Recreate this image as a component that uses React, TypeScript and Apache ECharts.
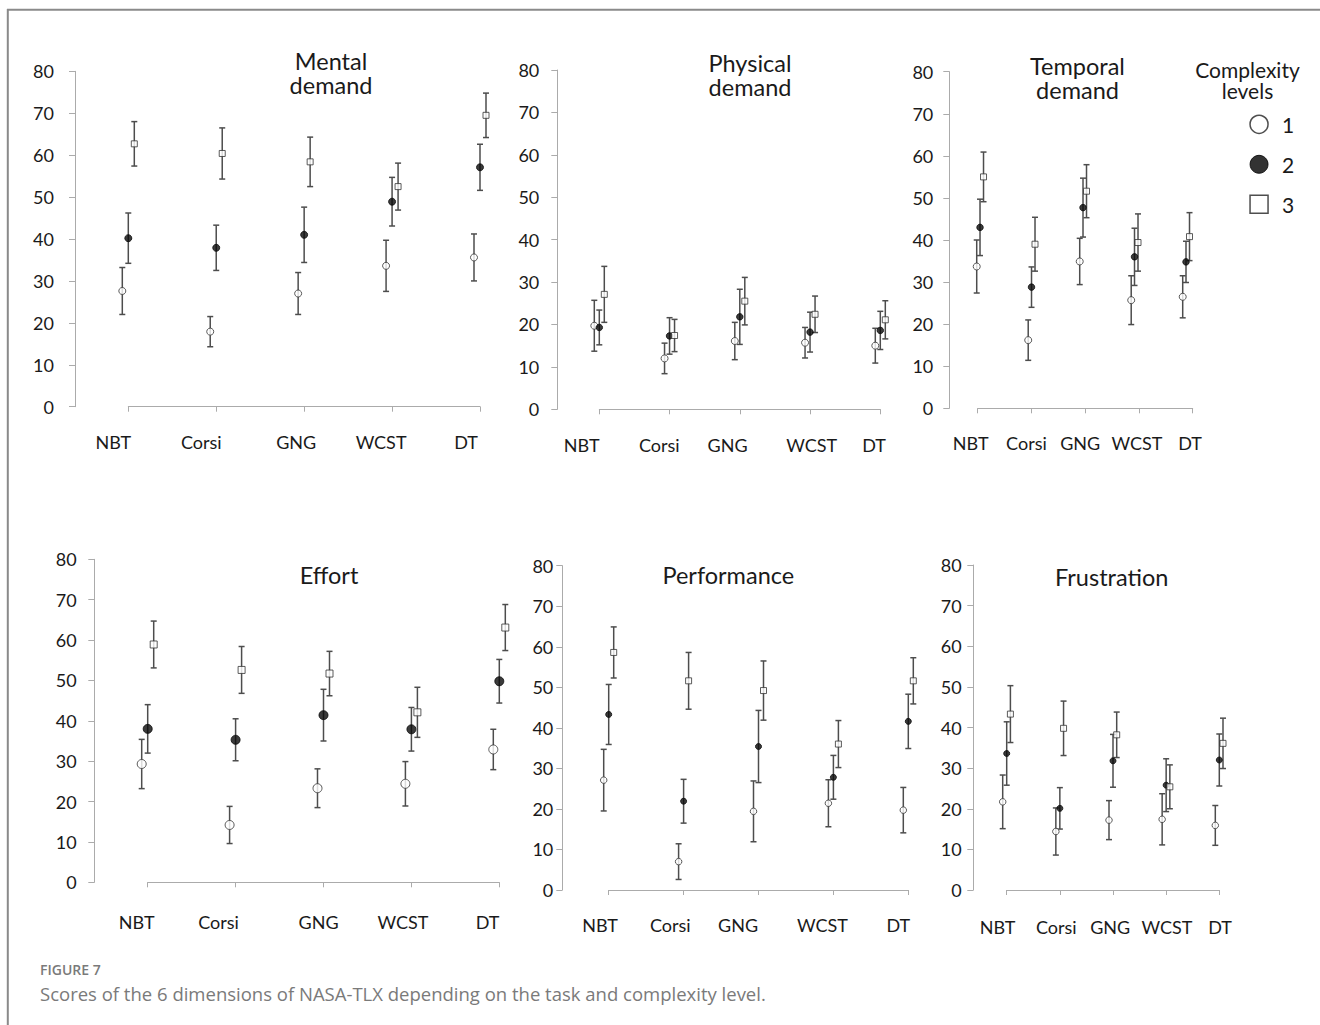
import React, { useEffect, useRef } from "react";
import * as echarts from "echarts";

// ---------- data ----------
const tasks = ["NBT", "Corsi", "GNG", "WCST", "DT"];
const levelNames = ["1", "2", "3"];
const yMin = 0;
const yMax = 80;
const yStep = 10;

const mentalL1 = [27.6, 17.9, 27.0, 33.6, 35.6];
const mentalL1Err = [5.6, 3.6, 5.0, 6.1, 5.6];
const mentalL2 = [40.2, 37.9, 41.0, 48.9, 57.1];
const mentalL2Err = [6.0, 5.4, 6.6, 5.8, 5.5];
const mentalL3 = [62.7, 60.4, 58.4, 52.5, 69.5];
const mentalL3Err = [5.3, 6.1, 5.9, 5.6, 5.3];

const physicalL1 = [19.7, 12.0, 16.1, 15.7, 15.0];
const physicalL1Err = [6.0, 3.6, 4.4, 3.6, 4.1];
const physicalL2 = [19.3, 17.3, 21.8, 18.2, 18.6];
const physicalL2Err = [4.1, 4.3, 6.5, 4.7, 4.5];
const physicalL3 = [27.1, 17.4, 25.5, 22.4, 21.1];
const physicalL3Err = [6.6, 3.8, 5.6, 4.3, 4.5];

const temporalL1 = [33.7, 16.2, 34.9, 25.7, 26.5];
const temporalL1Err = [6.3, 4.8, 5.5, 5.8, 5.0];
const temporalL2 = [43.0, 28.8, 47.7, 36.0, 34.8];
const temporalL2Err = [6.7, 4.8, 7.0, 6.8, 4.9];
const temporalL3 = [55.0, 39.0, 51.6, 39.4, 40.8];
const temporalL3Err = [5.9, 6.4, 6.3, 6.8, 5.7];

const effortL1 = [29.3, 14.2, 23.3, 24.4, 32.9];
const effortL1Err = [6.1, 4.6, 4.8, 5.5, 5.0];
const effortL2 = [38.0, 35.3, 41.4, 37.9, 49.8];
const effortL2Err = [6.0, 5.2, 6.4, 5.4, 5.4];
const effortL3 = [58.9, 52.6, 51.7, 42.1, 63.1];
const effortL3Err = [5.8, 5.8, 5.5, 6.2, 5.7];

const performanceL1 = [27.1, 7.0, 19.4, 21.4, 19.7];
const performanceL1Err = [7.6, 4.4, 7.5, 5.8, 5.6];
const performanceL2 = [43.3, 21.9, 35.4, 27.8, 41.6];
const performanceL2Err = [7.4, 5.4, 8.9, 5.4, 6.7];
const performanceL3 = [58.6, 51.6, 49.2, 36.0, 51.6];
const performanceL3Err = [6.3, 7.0, 7.3, 5.8, 5.7];

const frustrationL1 = [21.7, 14.4, 17.2, 17.4, 15.9];
const frustrationL1Err = [6.6, 5.8, 4.8, 6.3, 4.9];
const frustrationL2 = [33.6, 20.1, 31.8, 25.8, 32.0];
const frustrationL2Err = [7.8, 5.1, 6.5, 6.5, 6.4];
const frustrationL3 = [43.3, 39.8, 38.2, 25.4, 36.1];
const frustrationL3Err = [7.0, 6.7, 5.6, 5.4, 6.2];

const panelTitles = [
  "Mental\ndemand",
  "Physical\ndemand",
  "Temporal\ndemand",
  "Effort",
  "Performance",
  "Frustration",
];
const legendTitle = "Complexity\nlevels";
const figureLabel = "FIGURE 7";
const captionText =
  "Scores of the 6 dimensions of NASA-TLX depending on the task and complexity level.";

// ---------- layout / style ----------
const FONT = "Lato, 'Noto Sans', sans-serif";
const CAPTION_FONT = "'Open Sans', 'Noto Sans', sans-serif";
const TEXT = "#1a1a1a";
const AXIS = "#ababab";
const BAR = "#4d4d4d";

type Layout = {
  x0: number; x1: number; yTop: number; yBottom: number;
  yAxisX: number; xAxisY: number; yLabelMargin: number; xLabelMargin: number;
  labelShift: number[]; dx: number[]; sizes: number[]; pointRange: number[];
  titleX: number; titleY: number;
};

const layouts: Layout[] = [
  { x0: 128.3, x1: 480, yTop: 71.3, yBottom: 406.7, yAxisX: 75, xAxisY: 424.3,
    yLabelMargin: 21, xLabelMargin: 8.5, labelShift: [-15, -15, -8, -11, -14],
    dx: [-6, 0, 6], sizes: [7, 7, 6], pointRange: [1, 5], titleX: 331, titleY: 72.5 },
  { x0: 599.3, x1: 880.3, yTop: 70, yBottom: 409.3, yAxisX: 557.3, xAxisY: 426.7,
    yLabelMargin: 18, xLabelMargin: 9.3, labelShift: [-17.6, -10.3, -12.2, 1.7, -6.3],
    dx: [-5, 0, 5], sizes: [7, 6.5, 6], pointRange: [1, 5], titleX: 750, titleY: 75 },
  { x0: 977.7, x1: 1192.7, yTop: 71.7, yBottom: 408.3, yAxisX: 949.3, xAxisY: 422.7,
    yLabelMargin: 16, xLabelMargin: 11.6, labelShift: [-7, -5, -5, -2, -2.7],
    dx: [-3.3, 0, 3.5], sizes: [7, 6.5, 6], pointRange: [0.955, 5.13], titleX: 1077.5, titleY: 78.3 },
  { x0: 147.7, x1: 499.3, yTop: 559.3, yBottom: 882.3, yAxisX: 94.3, xAxisY: 899,
    yLabelMargin: 17.7, xLabelMargin: 13.7, labelShift: [-11, -17, -5, -8.4, -11.8],
    dx: [-6, 0, 6], sizes: [9, 9, 7], pointRange: [1, 5], titleX: 329, titleY: 575 },
  { x0: 608.7, x1: 908.3, yTop: 565.7, yBottom: 890, yAxisX: 562.3, xAxisY: 906,
    yLabelMargin: 9, xLabelMargin: 10, labelShift: [-8.7, -13.3, -20.5, -11, -10],
    dx: [-5, 0, 5], sizes: [6.5, 6, 6], pointRange: [1, 5], titleX: 728.3, titleY: 575 },
  { x0: 1006.7, x1: 1219.3, yTop: 565, yBottom: 890, yAxisX: 973.3, xAxisY: 906.7,
    yLabelMargin: 11.7, xLabelMargin: 11, labelShift: [-9.2, -3.5, -2.8, 0.8, 0.7],
    dx: [-4, 0, 3.7], sizes: [6.5, 6, 6], pointRange: [1, 5], titleX: 1111.7, titleY: 576.7 },
];

const panelMeans = [
  [mentalL1, mentalL2, mentalL3],
  [physicalL1, physicalL2, physicalL3],
  [temporalL1, temporalL2, temporalL3],
  [effortL1, effortL2, effortL3],
  [performanceL1, performanceL2, performanceL3],
  [frustrationL1, frustrationL2, frustrationL3],
];
const panelErrs = [
  [mentalL1Err, mentalL2Err, mentalL3Err],
  [physicalL1Err, physicalL2Err, physicalL3Err],
  [temporalL1Err, temporalL2Err, temporalL3Err],
  [effortL1Err, effortL2Err, effortL3Err],
  [performanceL1Err, performanceL2Err, performanceL3Err],
  [frustrationL1Err, frustrationL2Err, frustrationL3Err],
];

const levelStyles = [
  { symbol: "circle", itemStyle: { color: "#ffffff", borderColor: "#333333", borderWidth: 1 } },
  { symbol: "circle", itemStyle: { color: "#0a0a0a", borderColor: "#0a0a0a", borderWidth: 1 } },
  { symbol: "rect", itemStyle: { color: "#ffffff", borderColor: "#333333", borderWidth: 1 } },
];

function buildOption() {
  const grid: any[] = [];
  const xAxis: any[] = [];
  const yAxis: any[] = [];
  const series: any[] = [];
  const graphic: any[] = [];

  layouts.forEach((p, pi) => {
    grid.push({
      left: p.x0,
      top: p.yTop,
      width: p.x1 - p.x0,
      height: p.yBottom - p.yTop,
      containLabel: false,
      outerBoundsMode: "none",
    });

    const rich: any = {};
    p.labelShift.forEach((s, i) => {
      rich["s" + i] = {
        fontSize: 18,
        fontFamily: FONT,
        color: TEXT,
        lineHeight: 18,
        padding: s < 0 ? [0, -2 * s, 0, 0] : [0, 0, 0, 2 * s],
      };
    });

    // visible task axis (ticks at each task)
    xAxis.push({
      type: "value",
      gridIndex: pi,
      min: 1,
      max: 5,
      interval: 1,
      position: "bottom",
      offset: p.xAxisY - p.yBottom,
      axisLine: { show: true, lineStyle: { color: AXIS, width: 1 } },
      axisTick: { show: true, inside: false, length: 5, lineStyle: { color: AXIS, width: 1 } },
      splitLine: { show: false },
      axisLabel: {
        show: true,
        margin: p.xLabelMargin,
        showMinLabel: true,
        showMaxLabel: true,
        hideOverlap: false,
        formatter: (v: number) => {
          const i = Math.round(v) - 1;
          return "{s" + i + "|" + tasks[i] + "}";
        },
        rich,
      },
    });
    // hidden axis for the points
    xAxis.push({
      type: "value",
      gridIndex: pi,
      min: p.pointRange[0],
      max: p.pointRange[1],
      show: false,
    });

    yAxis.push({
      type: "value",
      gridIndex: pi,
      min: yMin,
      max: yMax,
      interval: yStep,
      position: "left",
      offset: p.x0 - p.yAxisX,
      axisLine: { show: true, lineStyle: { color: AXIS, width: 1 } },
      axisTick: { show: true, inside: false, length: 6, lineStyle: { color: AXIS, width: 1 } },
      splitLine: { show: false },
      axisLabel: {
        show: true,
        margin: p.yLabelMargin,
        fontSize: 18,
        fontFamily: FONT,
        color: TEXT,
      },
    });

    const means = panelMeans[pi];
    const errs = panelErrs[pi];

    const barData: number[][] = [];
    means.forEach((arr, l) => {
      arr.forEach((m, i) => {
        barData.push([i + 1, m, errs[l][i], l]);
      });
    });

    series.push({
      type: "custom",
      xAxisIndex: pi * 2 + 1,
      yAxisIndex: pi,
      clip: false,
      z: 2,
      encode: { x: 0, y: 1 },
      data: barData,
      renderItem: (_params: any, api: any) => {
        const x = api.value(0);
        const m = api.value(1);
        const e = api.value(2);
        const l = api.value(3);
        const a = api.coord([x, m + e]);
        const b = api.coord([x, m - e]);
        const cx = a[0] + p.dx[l];
        const hw = 3;
        const st = { stroke: BAR, lineWidth: 1.5 };
        return {
          type: "group",
          children: [
            { type: "line", shape: { x1: cx, y1: a[1], x2: cx, y2: b[1] }, style: st },
            { type: "line", shape: { x1: cx - hw, y1: a[1], x2: cx + hw, y2: a[1] }, style: st },
            { type: "line", shape: { x1: cx - hw, y1: b[1], x2: cx + hw, y2: b[1] }, style: st },
          ],
        };
      },
    });

    means.forEach((arr, l) => {
      series.push({
        type: "scatter",
        name: levelNames[l],
        xAxisIndex: pi * 2 + 1,
        yAxisIndex: pi,
        clip: false,
        z: 3,
        symbol: levelStyles[l].symbol,
        symbolSize: p.sizes[l],
        symbolOffset: [p.dx[l], 0],
        itemStyle: levelStyles[l].itemStyle,
        emphasis: { disabled: true },
        data: arr.map((m, i) => [i + 1, m]),
      });
    });

    graphic.push({
      type: "text",
      x: p.titleX,
      y: p.titleY,
      style: {
        text: panelTitles[pi],
        fontSize: 23.5,
        fontFamily: FONT,
        fill: TEXT,
        align: "center",
        verticalAlign: "middle",
        lineHeight: 24,
      },
    });
  });

  // legend title
  graphic.push({
    type: "text",
    x: 1247.5,
    y: 80,
    style: {
      text: legendTitle,
      fontSize: 21,
      fontFamily: FONT,
      fill: TEXT,
      align: "center",
      verticalAlign: "middle",
      lineHeight: 21,
    },
  });

  // frame
  graphic.push({
    type: "line",
    shape: { x1: 7, y1: 9.8, x2: 1320, y2: 9.8 },
    style: { stroke: "#8a8a8a", lineWidth: 2 },
  });
  graphic.push({
    type: "line",
    shape: { x1: 7.8, y1: 9, x2: 7.8, y2: 1025 },
    style: { stroke: "#8a8a8a", lineWidth: 2 },
  });

  // caption
  graphic.push({
    type: "text",
    x: 40,
    y: 969,
    style: {
      text: figureLabel,
      fontSize: 14,
      fontWeight: 600,
      fontFamily: CAPTION_FONT,
      fill: "#7a7a7a",
      align: "left",
      verticalAlign: "middle",
    },
  });
  graphic.push({
    type: "text",
    x: 40,
    y: 993,
    style: {
      text: captionText,
      fontSize: 18.5,
      fontFamily: CAPTION_FONT,
      fill: "#7a7a7a",
      align: "left",
      verticalAlign: "middle",
    },
  });

  return {
    animation: false,
    backgroundColor: "#ffffff",
    textStyle: { fontFamily: FONT },
    legend: {
      show: true,
      orient: "vertical",
      left: 1249.3,
      top: 113.8,
      padding: 0,
      itemWidth: 18,
      itemHeight: 18,
      itemGap: 19,
      selectedMode: false,
      textStyle: { fontSize: 21, fontFamily: FONT, color: TEXT, padding: [0, 0, 0, 9] },
      data: [
        { name: "1", icon: "circle", itemStyle: { color: "#ffffff", borderColor: "#222222", borderWidth: 1.5 } },
        { name: "2", icon: "circle", itemStyle: { color: "#000000", borderColor: "#000000", borderWidth: 1 } },
        { name: "3", icon: "rect", itemStyle: { color: "#ffffff", borderColor: "#222222", borderWidth: 1.5 } },
      ],
    },
    grid,
    xAxis,
    yAxis,
    series,
    graphic,
  };
}

export default function App() {
  const ref = useRef<HTMLDivElement>(null);
  useEffect(() => {
    document.body.style.margin = "0";
    document.body.style.overflow = "hidden";
    if (!ref.current) return;
    const chart = echarts.init(ref.current, undefined, { renderer: "svg" });
    chart.setOption(buildOption() as any);
    return () => {
      chart.dispose();
    };
  }, []);
  return <div ref={ref} style={{ width: 1320, height: 1025, background: "#fff" }} />;
}
